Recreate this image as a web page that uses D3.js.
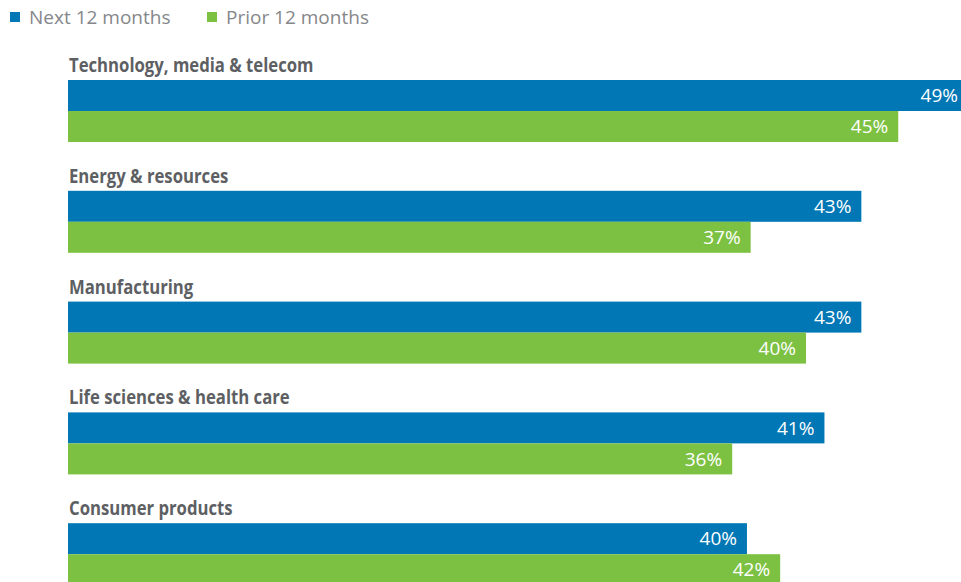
<!DOCTYPE html>
<html><head><meta charset="utf-8">
<script src="https://cdn.jsdelivr.net/npm/d3@7"></script>
<style>
html,body{margin:0;padding:0;background:#fff;}
svg{display:block;}
</style></head>
<body>
<svg id="chart" width="961" height="582"></svg>
<script>
const categories = ["Technology, media & telecom","Energy & resources","Manufacturing","Life sciences & health care","Consumer products"];
const seriesNames = ["Next 12 months","Prior 12 months"];
const nextValues = [49, 43, 43, 41, 36.8];
const priorValues = [45, 37, 40, 36, 38.6];
const nextLabels = ["49%","43%","43%","41%","40%"];
const priorLabels = ["45%","37%","40%","36%","42%"];
const colors = ["#0177b5","#7dc143"];

const W = 961, H = 582;
const svg = d3.select("#chart");

const x = d3.scaleLinear().domain([0, 50]).range([68, 68 + 18.45*50]);
const y = d3.scaleBand().domain(categories).range([80, 80 + 110.8*5]).paddingInner(0).paddingOuter(0);
const sub = d3.scaleBand().domain(seriesNames).range([0, 62]);

// legend
const leg = svg.append("g");
const legX = [10, 207];
seriesNames.forEach((s,i)=>{
  leg.append("rect").attr("x", legX[i]).attr("y", 12).attr("width", 10).attr("height", 10).attr("fill", colors[i]);
  leg.append("text").attr("x", legX[i]+19).attr("y", 17).attr("dy","0.35em")
    .attr("font-family","'Open Sans', sans-serif").attr("font-size", 19).attr("fill","#85878b").text(s);
});

const groups = svg.selectAll("g.cat").data(categories).join("g").attr("class","cat")
  .attr("transform", d => `translate(0,${y(d)})`);

groups.append("text")
  .attr("transform","translate(69,-8) scale(0.88,1)")
  .attr("font-family","'Open Sans',sans-serif")
  .attr("font-weight","bold").attr("font-size", 19).attr("fill","#5d5f63")
  .text(d=>d);

const series = [
  {name: seriesNames[0], values: nextValues, labels: nextLabels, color: colors[0]},
  {name: seriesNames[1], values: priorValues, labels: priorLabels, color: colors[1]}
];

series.forEach(s=>{
  groups.append("rect")
    .attr("x", x(0)).attr("y", sub(s.name))
    .attr("width", (d,i)=> x(s.values[i]) - x(0))
    .attr("height", sub.bandwidth())
    .attr("fill", s.color);
  groups.append("text")
    .attr("x", (d,i)=> Math.min(x(s.values[i]) - 10, W - 3))
    .attr("y", sub(s.name) + sub.bandwidth()/2)
    .attr("dy","0.35em").attr("text-anchor","end")
    .attr("font-family","'Open Sans', sans-serif").attr("font-size", 19).attr("fill","#fff")
    .text((d,i)=> s.labels[i]);
});
</script>
</body></html>
